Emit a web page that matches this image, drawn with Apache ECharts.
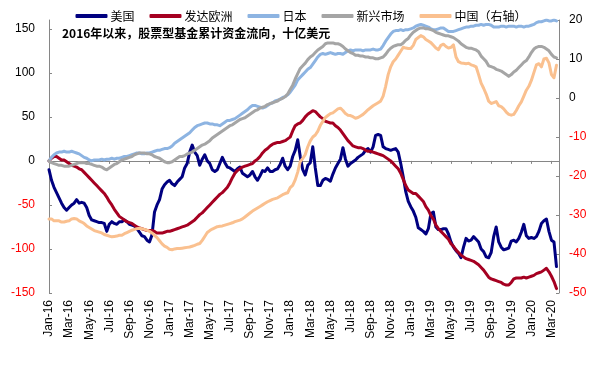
<!DOCTYPE html>
<html>
<head>
<meta charset="utf-8">
<script src="https://cdn.jsdelivr.net/npm/echarts@6/dist/echarts.min.js"></script>
<style>
html,body{margin:0;padding:0;background:#fff;}
#chart{width:602px;height:367px;}
</style>
</head>
<body>
<div id="chart"></div>
<script>
// Tick labels (every two months); data has 4 slots per month (weekly-ish)
const tickLabels = ['Jan-16','Mar-16','May-16','Jul-16','Sep-16','Nov-16','Jan-17','Mar-17','May-17','Jul-17','Sep-17','Nov-17','Jan-18','Mar-18','May-18','Jul-18','Sep-18','Nov-18','Jan-19','Mar-19','May-19','Jul-19','Sep-19','Nov-19','Jan-20','Mar-20'];
const seriesNames = ['美国','发达欧洲','日本','新兴市场','中国（右轴）'];
const titleText = '2016年以来，股票型基金累计资金流向，十亿美元';

const usData = [
-10,-22,-30,-36, -42,-48,-53,-56, -53,-50,-48,-44, -48,-47,-48,-53, -62,-67,-68,-69,
-70,-70,-71,-80, -72,-69,-71,-72, -69,-69,-67,-69, -72,-73,-74,-77, -81,-85,-86,-90,
-92,-84,-58,-50, -44,-32,-27,-24, -22,-26,-28,-24, -21,-18,-8,-3, 10,18,10,6,
-5,2,7,0, -3,-10,-12,-10, -3,4,-2,-7, -8,-10,-12,-9, -7,-14,-16,-18,
-16,-12,-18,-22, -17,-11,-12,-8, -12,-12,-10,-9, -4,3,-6,-10, -6,5,12,24,
5,-10,-16,-5, -2,16,-8,-28, -28,-22,-20,-21, -23,-15,-8,-3, 2,15,2,-6,
-3,-1,1,4, 6,8,12,14, 10,16,29,30, 29,16,14,13, 12,13,14,10,
-3,-18,-35,-46, -52,-57,-64,-76, -78,-80,-83,-77, -60,-58,-75,-78, -78,-77,-77,-83,
-92,-98,-102,-105, -110,-98,-88,-91, -90,-86,-89,-92, -100,-103,-109,-110, -104,-86,-75,-92,
-98,-101,-100,-99, -91,-90,-92,-88, -81,-72,-85,-88, -87,-88,-86,-80, -71,-68,-66,-80,
-90,-92,-120
];

const europeData = [
0,3,5,5, 3,1,1,-1, -3,-5,-6,-7, -9,-10,-13,-16, -19,-22,-25,-28,
-31,-34,-37,-41, -46,-50,-55,-59, -63,-65,-67,-69, -70,-71,-73,-75, -76,-77,-78,-79,
-79,-79,-80,-82, -82,-82,-81,-80, -80,-79,-78,-77, -76,-75,-74,-73, -71,-69,-67,-64,
-61,-59,-56,-53, -50,-47,-44,-41, -38,-36,-33,-30, -25,-19,-14,-11, -9,-7,-6,-5,
-4,-3,0,2, 5,9,12,14, 17,19,20,21, 21,22,23,25, 27,34,40,42,
43,46,50,53, 55,57,56,53, 50,48,45,44, 43,43,40,38, 35,31,27,23,
20,17,16,15, 15,14,12,11, 11,10,9,8, 7,6,4,2, 0,-3,-6,-9,
-14,-21,-28,-33, -35,-37,-37,-40, -43,-46,-52,-56, -62,-66,-73,-77, -80,-83,-86,-89,
-94,-97,-101,-104, -107,-109,-111,-112, -113,-114,-116,-118, -121,-124,-128,-132, -134,-135,-136,-137,
-138,-140,-141,-141, -138,-134,-133,-133, -133,-132,-133,-132, -131,-130,-128,-127, -126,-124,-122,-126,
-131,-137,-145
];

const japanData = [
0,4,7,9, 10,10,11,10, 10,11,10,9, 8,6,4,3, 1,0,1,1,
1,2,1,2, 2,3,2,3, 3,4,5,5, 6,7,8,9, 9,8,8,9,
9,10,11,12, 12,13,14,14, 15,17,20,22, 24,26,28,30, 32,35,38,40,
41,42,43,43, 42,42,41,41, 40,42,44,46, 46,47,48,50, 52,54,56,58,
61,63,63,62, 61,60,61,63, 65,66,68,69, 70,72,73,75, 78,82,86,92,
95,98,101,104, 106,110,114,118, 121,122,121,122, 123,122,121,122, 122,121,123,125,
126,125,126,126, 126,125,126,126, 126,127,126,126, 127,131,136,140, 144,147,148,148,
149,148,149,149, 150,151,153,154, 155,154,153,152, 150,149,149,150, 151,151,149,147,
147,147,148,149, 150,151,152,152, 153,153,154,154, 155,154,155,155, 154,152,152,152,
153,153,152,153, 153,153,152,153, 153,152,153,153, 154,155,157,158, 158,159,160,159,
159,160,159
];

const emData = [
0,-2,-3,-4, -5,-5,-6,-6, -6,-5,-4,-3, -2,-2,-2,-3, -3,-4,-5,-6,
-6,-7,-9,-10, -8,-6,-4,-3, -1,1,2,3, 4,5,7,8, 9,9,9,8,
8,7,5,4, 3,1,-1,-2, -2,-1,1,3, 5,5,6,8, 9,10,12,14,
16,18,19,21, 23,26,28,30, 32,34,36,38, 40,41,43,45, 47,48,49,51,
53,55,57,58, 60,61,62,64, 65,66,67,68, 70,71,73,76, 81,86,93,99,
105,108,111,115, 118,120,123,126, 128,130,133,134, 134,134,133,133, 132,130,127,125,
123,122,120,120, 119,119,118,118, 117,117,116,116, 117,118,121,125, 128,130,131,132,
132,134,137,139, 143,146,148,150, 151,151,150,150, 149,148,146,145, 144,143,142,142,
141,140,138,136, 133,131,129,128, 128,127,126,124, 119,116,113,108, 107,106,104,103,
102,100,98,96, 98,101,103,106, 109,112,114,118, 123,127,129,130, 130,129,127,125,
121,118,117
];

const chinaData = [
-31,-31,-31.5,-31.5, -31.5,-31.8,-31.8,-31.6, -31.5,-31,-30.9,-31, -31.5,-31.8,-32.2,-32.8, -33.2,-33.6,-34,-34.2,
-34.4,-34.6,-35,-35.2, -35.4,-35.6,-35.5,-35.4, -35.2,-35.2,-34.8,-34.5, -34.2,-33.9,-33.7,-33.5, -33.4,-33.5,-33.7,-33.9,
-34.2,-34.6,-35.2,-35.8, -36.6,-37.4,-38,-38.3, -38.8,-38.9,-38.7,-38.6, -38.6,-38.5,-38.4,-38.3, -38.2,-38,-37.8,-37.5,
-37.3,-36.5,-35.5,-34.5, -34,-33.6,-33.3,-33, -32.9,-32.8,-32.6,-32.4, -32.2,-32,-31.7,-31.5, -31.3,-31,-30.5,-30,
-29.5,-29,-28.6,-28.2, -27.8,-27.4,-27,-26.6, -26.3,-26,-25.8,-25.6, -25.2,-24.8,-24.5,-24.3, -23,-22.4,-21,-19,
-16.3,-15.5,-14.5,-12.5, -11,-10,-9.5,-8.5, -7,-6,-5,-4.5, -4,-3.8,-3.3,-2.8, -2.6,-3.2,-4,-4.4,
-4.5,-4.8,-5.2,-5, -4.6,-4.2,-3.6,-3, -2.5,-2,-1.6,-1.2, -0.8,0.5,3,6, 8,9.3,10,11,
12,13,12.8,12.7, 12.7,13.5,15,15.5, 16,15.7,15,14.6, 14.2,13.5,12.8,12.4, 13.5,13.8,13.2,12.8,
13,13.6,10.5,9.3, 9,8.9,8.8,8.9, 8.5,8.3,8,6, 3.8,2.5,1,-0.8, -1.4,-1.2,-0.9,-2,
-2.2,-2.8,-3.6,-4.2, -4.4,-4.2,-3.2,-2, -1,0.5,2,3, 4.5,6.5,8.5,8.8, 8,10,10.2,9,
6,5.2,8.4
];

const SLOTS_PER_MONTH = 4;
const slotCount = 204;
const labelStep = SLOTS_PER_MONTH * 2;
const categories = [];
for (let i = 0; i < slotCount; i++) {
  categories.push(i % labelStep === 0 && tickLabels[i / labelStep] ? tickLabels[i / labelStep] : ('s' + i));
}

const colors = ['#000080', '#a50021', '#8db4e2', '#a5a5a5', '#fac08f'];
const axisColor = '#868686';
const numFont = 'Liberation Sans';
const cjkFont = 'Noto Sans CJK SC';

const chart = echarts.init(document.getElementById('chart'), null, {renderer: 'canvas'});
const lineSeries = (name, data, color, yIdx) => ({
  name, type: 'line', data, yAxisIndex: yIdx, xAxisIndex: 0,
  showSymbol: false, symbol: 'none', smooth: false,
  lineStyle: {width: 3, color: color, cap: 'round', join: 'round'},
  itemStyle: {color: color},
  animation: false
});

chart.setOption({
  animation: false,
  backgroundColor: '#ffffff',
  color: colors,
  title: {
    text: titleText, left: 62, top: 27, padding: 0,
    textStyle: {fontSize: 12, fontWeight: 'bold', fontFamily: cjkFont, color: '#000'}
  },
  legend: {
    top: 5, left: 'center', itemWidth: 32, itemHeight: 4, itemGap: 15,
    icon: 'roundRect',
    textStyle: {fontSize: 12, fontFamily: cjkFont, color: '#000', padding: [0, 0, 0, -2]},
    data: seriesNames
  },
  grid: {left: 49, right: 43, top: 20, bottom: 74, containLabel: false, outerBoundsMode: 'none'},
  xAxis: [
    {
      type: 'category', data: categories, boundaryGap: false, position: 'bottom',
      axisLine: {show: false, onZero: false},
      axisTick: {show: false},
      axisLabel: {
        rotate: 90, margin: 7, fontSize: 12, fontFamily: numFont, color: '#000',
        interval: (i) => i % labelStep === 0,
        formatter: (v) => (v.charAt(0) === 's' ? '' : v)
      },
      splitLine: {show: false}
    },
    {
      type: 'category', data: categories, boundaryGap: false, position: 'bottom',
      axisLine: {show: true, onZero: true, onZeroAxisIndex: 0, lineStyle: {color: axisColor, width: 1}},
      axisTick: {show: true, length: 3, interval: (i) => i % labelStep === 0, lineStyle: {color: axisColor}},
      axisLabel: {show: false},
      splitLine: {show: false}
    }
  ],
  yAxis: [
    {
      type: 'value', position: 'left', min: -150, max: 160, interval: 50,
      axisLine: {show: true, onZero: false, lineStyle: {color: axisColor, width: 1}},
      axisTick: {show: true, inside: true, length: 3, lineStyle: {color: axisColor}},
      axisLabel: {
        margin: 14, fontSize: 12, fontFamily: numFont, showMaxLabel: false,
        formatter: (v) => (v > 150 ? '' : String(v)),
        color: (v) => (Number(v) < 0 ? '#ff0000' : '#000000')
      },
      splitLine: {show: false}
    },
    {
      type: 'value', position: 'right', min: -50, max: 20, interval: 10,
      axisLine: {show: true, onZero: false, lineStyle: {color: axisColor, width: 1}},
      axisTick: {show: true, inside: true, length: 3, lineStyle: {color: axisColor}},
      axisLabel: {
        margin: 10, fontSize: 12, fontFamily: numFont,
        color: (v) => (Number(v) < 0 ? '#ff0000' : '#000000')
      },
      splitLine: {show: false}
    }
  ],
  series: [
    lineSeries(seriesNames[0], usData, colors[0], 0),
    lineSeries(seriesNames[1], europeData, colors[1], 0),
    lineSeries(seriesNames[2], japanData, colors[2], 0),
    lineSeries(seriesNames[3], emData, colors[3], 0),
    lineSeries(seriesNames[4], chinaData, colors[4], 1)
  ]
});
</script>
</body>
</html>
